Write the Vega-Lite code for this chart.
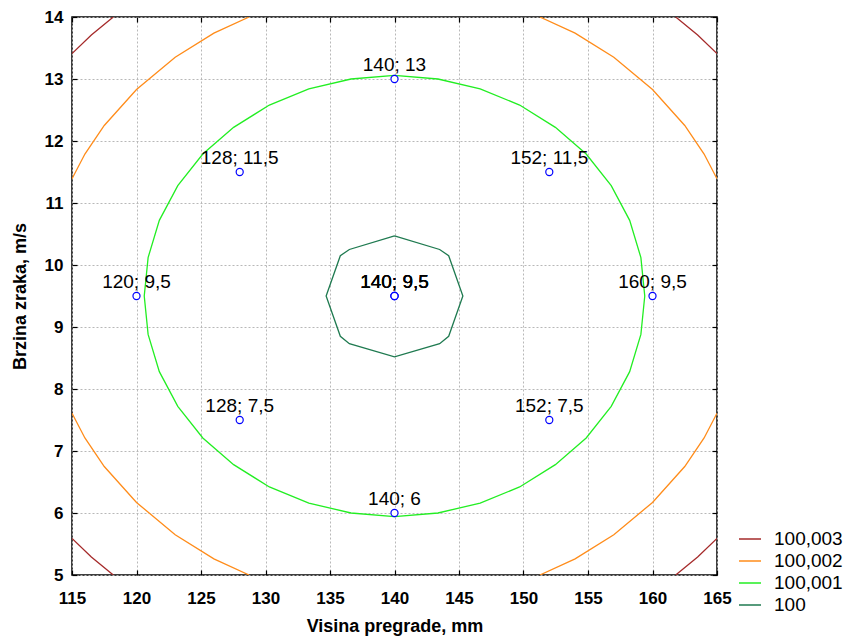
{
  "$schema": "https://vega.github.io/schema/vega-lite/v6.json",
  "width": 645,
  "height": 558,
  "autosize": {"type": "none"},
  "padding": {"left": 72, "top": 17, "right": 131, "bottom": 61},
  "background": "white",
  "config": {
    "font": "Liberation Sans",
    "view": {"stroke": "#000000", "strokeWidth": 1.5},
    "axis": {
      "labelFont": "Liberation Sans",
      "labelFontSize": 17,
      "labelFontWeight": "bold",
      "labelColor": "#000000",
      "titleFont": "Liberation Sans",
      "titleFontSize": 18,
      "titleFontWeight": "bold",
      "titleColor": "#000000",
      "gridColor": "#b8b8b8",
      "gridDash": [2, 2],
      "gridWidth": 1,
      "tickColor": "#000000",
      "tickWidth": 1.2,
      "domain": false,
      "labelOverlap": false,
      "labelFlush": false
    }
  },
  "datasets": {
    "contours": [
      {"level": "100,001", "seg": "g", "i": 0, "x": 159.4, "y": 9.5},
      {"level": "100,001", "seg": "g", "i": 1, "x": 159.1, "y": 10.12},
      {"level": "100,001", "seg": "g", "i": 2, "x": 158.23, "y": 10.72},
      {"level": "100,001", "seg": "g", "i": 3, "x": 156.8, "y": 11.28},
      {"level": "100,001", "seg": "g", "i": 4, "x": 154.86, "y": 11.79},
      {"level": "100,001", "seg": "g", "i": 5, "x": 152.47, "y": 12.22},
      {"level": "100,001", "seg": "g", "i": 6, "x": 149.7, "y": 12.58},
      {"level": "100,001", "seg": "g", "i": 7, "x": 146.64, "y": 12.84},
      {"level": "100,001", "seg": "g", "i": 8, "x": 143.37, "y": 13.0},
      {"level": "100,001", "seg": "g", "i": 9, "x": 140, "y": 13.06},
      {"level": "100,001", "seg": "g", "i": 10, "x": 136.63, "y": 13.0},
      {"level": "100,001", "seg": "g", "i": 11, "x": 133.36, "y": 12.84},
      {"level": "100,001", "seg": "g", "i": 12, "x": 130.3, "y": 12.58},
      {"level": "100,001", "seg": "g", "i": 13, "x": 127.53, "y": 12.22},
      {"level": "100,001", "seg": "g", "i": 14, "x": 125.14, "y": 11.79},
      {"level": "100,001", "seg": "g", "i": 15, "x": 123.2, "y": 11.28},
      {"level": "100,001", "seg": "g", "i": 16, "x": 121.77, "y": 10.72},
      {"level": "100,001", "seg": "g", "i": 17, "x": 120.9, "y": 10.12},
      {"level": "100,001", "seg": "g", "i": 18, "x": 120.6, "y": 9.5},
      {"level": "100,001", "seg": "g", "i": 19, "x": 120.9, "y": 8.88},
      {"level": "100,001", "seg": "g", "i": 20, "x": 121.77, "y": 8.28},
      {"level": "100,001", "seg": "g", "i": 21, "x": 123.2, "y": 7.72},
      {"level": "100,001", "seg": "g", "i": 22, "x": 125.14, "y": 7.21},
      {"level": "100,001", "seg": "g", "i": 23, "x": 127.53, "y": 6.78},
      {"level": "100,001", "seg": "g", "i": 24, "x": 130.3, "y": 6.42},
      {"level": "100,001", "seg": "g", "i": 25, "x": 133.36, "y": 6.16},
      {"level": "100,001", "seg": "g", "i": 26, "x": 136.63, "y": 6.0},
      {"level": "100,001", "seg": "g", "i": 27, "x": 140, "y": 5.94},
      {"level": "100,001", "seg": "g", "i": 28, "x": 143.37, "y": 6.0},
      {"level": "100,001", "seg": "g", "i": 29, "x": 146.64, "y": 6.16},
      {"level": "100,001", "seg": "g", "i": 30, "x": 149.7, "y": 6.42},
      {"level": "100,001", "seg": "g", "i": 31, "x": 152.47, "y": 6.78},
      {"level": "100,001", "seg": "g", "i": 32, "x": 154.86, "y": 7.21},
      {"level": "100,001", "seg": "g", "i": 33, "x": 156.8, "y": 7.72},
      {"level": "100,001", "seg": "g", "i": 34, "x": 158.23, "y": 8.28},
      {"level": "100,001", "seg": "g", "i": 35, "x": 159.1, "y": 8.88},
      {"level": "100,001", "seg": "g", "i": 36, "x": 159.4, "y": 9.5},

      {"level": "100,002", "seg": "o1", "i": 0, "x": 151.27, "y": 14},
      {"level": "100,002", "seg": "o1", "i": 1, "x": 154, "y": 13.74},
      {"level": "100,002", "seg": "o1", "i": 2, "x": 157, "y": 13.35},
      {"level": "100,002", "seg": "o1", "i": 3, "x": 160, "y": 12.83},
      {"level": "100,002", "seg": "o1", "i": 4, "x": 162.5, "y": 12.25},
      {"level": "100,002", "seg": "o1", "i": 5, "x": 164, "y": 11.79},
      {"level": "100,002", "seg": "o1", "i": 6, "x": 165, "y": 11.39},
      {"level": "100,002", "seg": "o2", "i": 0, "x": 128.73, "y": 14},
      {"level": "100,002", "seg": "o2", "i": 1, "x": 126, "y": 13.74},
      {"level": "100,002", "seg": "o2", "i": 2, "x": 123, "y": 13.35},
      {"level": "100,002", "seg": "o2", "i": 3, "x": 120, "y": 12.83},
      {"level": "100,002", "seg": "o2", "i": 4, "x": 117.5, "y": 12.25},
      {"level": "100,002", "seg": "o2", "i": 5, "x": 116, "y": 11.79},
      {"level": "100,002", "seg": "o2", "i": 6, "x": 115, "y": 11.39},
      {"level": "100,002", "seg": "o3", "i": 0, "x": 151.27, "y": 5},
      {"level": "100,002", "seg": "o3", "i": 1, "x": 154, "y": 5.26},
      {"level": "100,002", "seg": "o3", "i": 2, "x": 157, "y": 5.65},
      {"level": "100,002", "seg": "o3", "i": 3, "x": 160, "y": 6.17},
      {"level": "100,002", "seg": "o3", "i": 4, "x": 162.5, "y": 6.75},
      {"level": "100,002", "seg": "o3", "i": 5, "x": 164, "y": 7.21},
      {"level": "100,002", "seg": "o3", "i": 6, "x": 165, "y": 7.61},
      {"level": "100,002", "seg": "o4", "i": 0, "x": 128.73, "y": 5},
      {"level": "100,002", "seg": "o4", "i": 1, "x": 126, "y": 5.26},
      {"level": "100,002", "seg": "o4", "i": 2, "x": 123, "y": 5.65},
      {"level": "100,002", "seg": "o4", "i": 3, "x": 120, "y": 6.17},
      {"level": "100,002", "seg": "o4", "i": 4, "x": 117.5, "y": 6.75},
      {"level": "100,002", "seg": "o4", "i": 5, "x": 116, "y": 7.21},
      {"level": "100,002", "seg": "o4", "i": 6, "x": 115, "y": 7.61},

      {"level": "100,003", "seg": "r1", "i": 0, "x": 115, "y": 13.41},
      {"level": "100,003", "seg": "r1", "i": 1, "x": 116.5, "y": 13.71},
      {"level": "100,003", "seg": "r1", "i": 2, "x": 118.2, "y": 14},
      {"level": "100,003", "seg": "r2", "i": 0, "x": 161.8, "y": 14},
      {"level": "100,003", "seg": "r2", "i": 1, "x": 163.5, "y": 13.71},
      {"level": "100,003", "seg": "r2", "i": 2, "x": 165, "y": 13.41},
      {"level": "100,003", "seg": "r3", "i": 0, "x": 115, "y": 5.59},
      {"level": "100,003", "seg": "r3", "i": 1, "x": 116.5, "y": 5.29},
      {"level": "100,003", "seg": "r3", "i": 2, "x": 118.2, "y": 5},
      {"level": "100,003", "seg": "r4", "i": 0, "x": 161.8, "y": 5},
      {"level": "100,003", "seg": "r4", "i": 1, "x": 163.5, "y": 5.29},
      {"level": "100,003", "seg": "r4", "i": 2, "x": 165, "y": 5.59},

      {"level": "100", "seg": "d", "i": 0, "x": 140, "y": 10.47},
      {"level": "100", "seg": "d", "i": 1, "x": 143.5, "y": 10.25},
      {"level": "100", "seg": "d", "i": 2, "x": 144.2, "y": 10.15},
      {"level": "100", "seg": "d", "i": 3, "x": 145.3, "y": 9.5},
      {"level": "100", "seg": "d", "i": 4, "x": 144.2, "y": 8.85},
      {"level": "100", "seg": "d", "i": 5, "x": 143.5, "y": 8.73},
      {"level": "100", "seg": "d", "i": 6, "x": 140, "y": 8.52},
      {"level": "100", "seg": "d", "i": 7, "x": 136.5, "y": 8.73},
      {"level": "100", "seg": "d", "i": 8, "x": 135.8, "y": 8.85},
      {"level": "100", "seg": "d", "i": 9, "x": 134.7, "y": 9.5},
      {"level": "100", "seg": "d", "i": 10, "x": 135.8, "y": 10.15},
      {"level": "100", "seg": "d", "i": 11, "x": 136.5, "y": 10.25},
      {"level": "100", "seg": "d", "i": 12, "x": 140, "y": 10.47}
    ],
    "design": [
      {"x": 120, "y": 9.5, "label": "120; 9,5"},
      {"x": 128, "y": 7.5, "label": "128; 7,5"},
      {"x": 128, "y": 11.5, "label": "128; 11,5"},
      {"x": 140, "y": 6, "label": "140; 6"},
      {"x": 140, "y": 13, "label": "140; 13"},
      {"x": 140, "y": 9.5, "label": "140; 9,5"},
      {"x": 140, "y": 9.5, "label": "140; 9,5"},
      {"x": 140, "y": 9.5, "label": "140; 9,5"},
      {"x": 152, "y": 7.5, "label": "152; 7,5"},
      {"x": 152, "y": 11.5, "label": "152; 11,5"},
      {"x": 160, "y": 9.5, "label": "160; 9,5"}
    ]
  },
  "layer": [
    {
      "data": {"name": "contours"},
      "mark": {"type": "line", "clip": true, "strokeWidth": 1.3},
      "encoding": {
        "x": {
          "field": "x", "type": "quantitative",
          "scale": {"domain": [115, 165], "nice": false, "zero": false},
          "axis": {
            "orient": "bottom",
            "title": "Visina pregrade, mm",
            "values": [115, 120, 125, 130, 135, 140, 145, 150, 155, 160, 165],
            "tickSize": -5,
            "labelPadding": 20,
            "titlePadding": 11
          }
        },
        "y": {
          "field": "y", "type": "quantitative",
          "scale": {"domain": [5, 14], "nice": false, "zero": false},
          "axis": {
            "orient": "left",
            "title": "Brzina zraka, m/s",
            "values": [5, 6, 7, 8, 9, 10, 11, 12, 13, 14],
            "tickSize": -5,
            "labelPadding": 14,
            "titlePadding": 15
          }
        },
        "color": {
          "field": "level", "type": "nominal",
          "scale": {
            "domain": ["100,003", "100,002", "100,001", "100"],
            "range": ["#a52a2a", "#ff8c1a", "#22ee22", "#1f7a50"]
          },
          "legend": {
            "orient": "none",
            "legendX": 666,
            "legendY": 510,
            "title": null,
            "symbolType": "stroke",
            "symbolSize": 484,
            "symbolStrokeWidth": 1.5,
            "labelFontSize": 19,
            "labelFont": "Liberation Sans",
            "labelColor": "#000000",
            "rowPadding": 0,
            "labelOffset": 12,
            "padding": 0
          }
        },
        "detail": {"field": "seg"},
        "order": {"field": "i", "type": "quantitative"}
      }
    },
    {
      "data": {"name": "design"},
      "mark": {"type": "point", "shape": "circle", "fill": "white", "stroke": "#0000ff", "strokeWidth": 1.2, "size": 50, "opacity": 1},
      "encoding": {
        "x": {
          "field": "x", "type": "quantitative",
          "axis": {"orient": "top", "title": null, "labels": false, "grid": false, "tickSize": -5, "values": [115, 120, 125, 130, 135, 140, 145, 150, 155, 160, 165]}
        },
        "y": {
          "field": "y", "type": "quantitative",
          "axis": {"orient": "right", "title": null, "labels": false, "grid": false, "tickSize": -5, "values": [5, 6, 7, 8, 9, 10, 11, 12, 13, 14]}
        }
      }
    },
    {
      "data": {"name": "design"},
      "mark": {"type": "text", "fontSize": 19, "font": "Liberation Sans", "color": "#000000", "align": "center", "baseline": "alphabetic", "dy": -8},
      "encoding": {
        "x": {"field": "x", "type": "quantitative", "axis": null},
        "y": {"field": "y", "type": "quantitative", "axis": null},
        "text": {"field": "label"}
      }
    }
  ],
  "resolve": {"axis": {"x": "independent", "y": "independent"}}
}
